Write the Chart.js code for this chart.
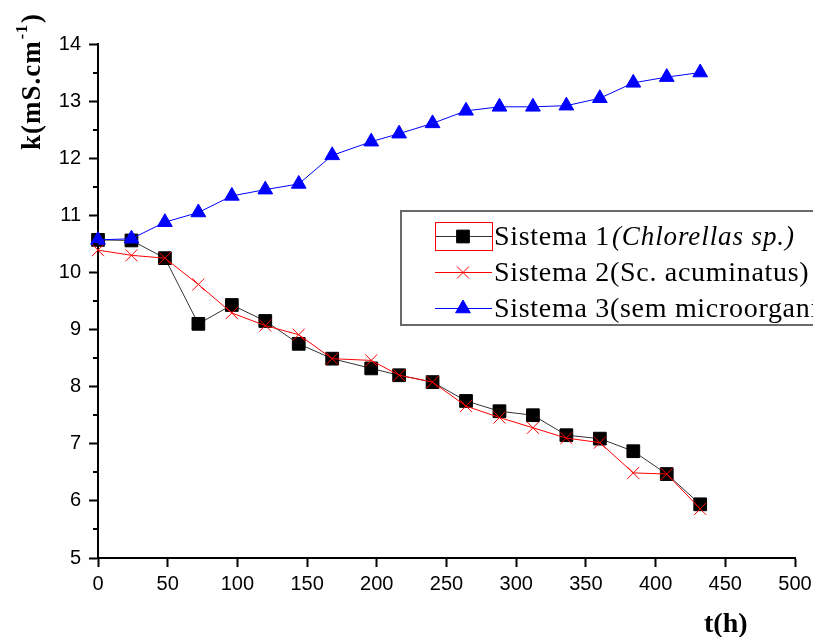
<!DOCTYPE html>
<html lang="pt">
<head>
<meta charset="utf-8">
<title>Condutividade x tempo</title>
<script src="https://cdn.jsdelivr.net/npm/chart.js@4.4.1/dist/chart.umd.min.js"></script>
<style>
    body { margin: 0; background: #fff; }
    #wrap { width: 813px; height: 637px; }
</style>
</head>
<body>
<div id="wrap"><canvas id="kChart" width="813" height="637"></canvas></div>
<script>
// Tempo de coleta (h)
var horas = [0, 24, 48, 72, 96, 120, 144, 168, 196, 216, 240, 264, 288, 312, 336, 360, 384, 408, 432];

// Condutividade k (mS.cm-1) de cada sistema
var sistema1 = [10.57, 10.56, 10.25, 9.10, 9.43, 9.15, 8.75, 8.49, 8.32, 8.20, 8.08, 7.75, 7.57, 7.50, 7.15, 7.09, 6.87, 6.47, 5.94];
var sistema2 = [10.39, 10.30, 10.25, 9.79, 9.29, 9.07, 8.91, 8.49, 8.46, 8.20, 8.08, 7.66, 7.46, 7.28, 7.10, 7.02, 6.49, 6.47, 5.86];
var sistema3 = [10.57, 10.59, 10.88, 11.05, 11.34, 11.45, 11.55, 12.05, 12.29, 12.43, 12.61, 12.83, 12.90, 12.90, 12.92, 13.05, 13.32, 13.42, 13.50];

// Eixos
var xTicks = [0, 50, 100, 150, 200, 250, 300, 350, 400, 450, 500];
var yTicks = [5, 6, 7, 8, 9, 10, 11, 12, 13, 14];
var yMinorTicks = [5.5, 6.5, 7.5, 8.5, 9.5, 10.5, 11.5, 12.5, 13.5];

// Legenda: texto normal + parte em itálico
var legendaNomes = ["Sistema 1", "Sistema 2(Sc. acuminatus)", "Sistema 3(sem microorganismos)"];
var legendaItalico = ["(Chlorellas sp.)", "", ""];

function pontos(valores) {
    return horas.map(function (h, i) {
        return { x: h, y: valores[i] };
    });
}

var serif = "'Liberation Serif', 'Times New Roman', serif";
var sans = "'Liberation Sans', Arial, sans-serif";

var series = [
    { label: legendaNomes[0], data: pontos(sistema1), borderColor: "#333333", backgroundColor: "#000", pointBorderColor: "#000",
      pointStyle: "rect", pointRadius: 9, pointBorderWidth: 1, order: 2 },
    { label: legendaNomes[1], data: pontos(sistema2), borderColor: "#ff0000", backgroundColor: "#ff0000", pointBorderColor: "#ff0000",
      pointStyle: "crossRot", pointRadius: 8.5, pointBorderWidth: 1, order: 1 },
    { label: legendaNomes[2], data: pontos(sistema3), borderColor: "#0000ff", backgroundColor: "#0000ff", pointBorderColor: "#0000ff",
      pointStyle: "triangle", pointRadius: 8.5, pointBorderWidth: 1, order: 0 }
];
series.forEach(function (s) {
    s.borderWidth = 1;
    s.tension = 0;
    s.clip = false;
    s.pointHoverRadius = s.pointRadius;
});

// Traços menores do eixo y
var minorTicksPlugin = {
    id: "minorTicks",
    afterDraw: function (chart) {
        var ctx = chart.ctx;
        var y = chart.scales.y;
        ctx.save();
        ctx.strokeStyle = "#000";
        ctx.lineWidth = 2;
        yMinorTicks.forEach(function (v) {
            var py = Math.round(y.getPixelForValue(v));
            ctx.beginPath();
            ctx.moveTo(y.right - 5, py);
            ctx.lineTo(y.right, py);
            ctx.stroke();
        });
        ctx.restore();
    }
};

// Títulos dos eixos (com expoente)
var axisTitlesPlugin = {
    id: "axisTitles",
    afterDraw: function (chart) {
        var ctx = chart.ctx;
        ctx.save();
        ctx.fillStyle = "#000";
        ctx.textBaseline = "alphabetic";
        ctx.textAlign = "left";

        ctx.translate(40, 150);
        ctx.rotate(-Math.PI / 2);
        ctx.font = "bold 27px " + serif;
        ctx.letterSpacing = "1px";
        var base = "k(mS.cm";
        ctx.fillText(base, 0, 0);
        var w = ctx.measureText(base).width;
        ctx.font = "bold 16px " + serif;
        ctx.fillText("-1", w + 1, -13);
        var w2 = ctx.measureText("-1").width;
        ctx.font = "bold 27px " + serif;
        ctx.fillText(")", w + w2 + 2, 0);
        ctx.restore();

        ctx.save();
        ctx.fillStyle = "#000";
        ctx.font = "bold 28px " + serif;
        ctx.textAlign = "left";
        ctx.fillText("t(h)", 704, 632);
        ctx.restore();
    }
};

// Legenda desenhada à mão (nome com parte em itálico)
var legendaPlugin = {
    id: "legendaBox",
    afterDraw: function (chart) {
        var ctx = chart.ctx;
        ctx.save();
        ctx.strokeStyle = "#6a6a6a";
        ctx.lineWidth = 2;
        ctx.strokeRect(401, 211, 440, 114);

        for (var i = 0; i < series.length; i++) {
            var s = series[i];
            var ry = 236 + i * 36;
            ctx.strokeStyle = s.borderColor;
            ctx.lineWidth = 1;
            ctx.beginPath();
            ctx.moveTo(435, ry + 0.5);
            ctx.lineTo(492, ry + 0.5);
            ctx.stroke();
            ctx.fillStyle = s.backgroundColor;
            ctx.strokeStyle = s.pointBorderColor;
            Chart.helpers.drawPoint(ctx, {
                pointStyle: s.pointStyle,
                radius: s.pointRadius,
                borderWidth: 1,
                rotation: 0
            }, 463, ry + 0.5);

            ctx.fillStyle = "#000";
            ctx.font = "28px " + serif;
            ctx.letterSpacing = "0.7px";
            ctx.textAlign = "left";
            ctx.fillText(legendaNomes[i], 494, ry + 9);
            if (legendaItalico[i]) {
                var w = ctx.measureText(legendaNomes[i]).width;
                ctx.font = "italic 27px " + serif;
                ctx.letterSpacing = "0.9px";
                ctx.fillText(legendaItalico[i], 494 + w + 2, ry + 9);
            }
        }
        // contorno vermelho em volta da primeira amostra
        ctx.strokeStyle = "#ff0000";
        ctx.lineWidth = 1;
        ctx.strokeRect(435.5, 222.5, 57, 28);
        ctx.restore();
    }
};

var ctx = document.getElementById("kChart").getContext("2d");
var kChart = new Chart(ctx, {
    type: "line",
    data: { datasets: series },
    options: {
        responsive: false,
        animation: false,
        devicePixelRatio: 1,
        layout: { padding: { top: 44, right: 0, left: 0, bottom: 0 } },
        plugins: {
            legend: { display: false },
            tooltip: { enabled: false }
        },
        scales: {
            x: {
                type: "linear",
                min: 0,
                max: 500,
                afterBuildTicks: function (scale) {
                    scale.ticks = xTicks.map(function (v) { return { value: v }; });
                },
                afterFit: function (scale) {
                    scale.height = 79;
                    scale.paddingRight = 18;
                },
                ticks: { color: "#000", font: { family: sans, size: 20 }, padding: 5, maxRotation: 0 },
                grid: { drawOnChartArea: false, tickLength: 9, tickColor: "#000", tickWidth: 2 },
                border: { color: "#000", width: 2 }
            },
            y: {
                type: "linear",
                min: 5,
                max: 14,
                afterBuildTicks: function (scale) {
                    scale.ticks = yTicks.map(function (v) { return { value: v }; });
                },
                afterFit: function (scale) {
                    scale.width = 98;
                    scale.paddingTop = 0;
                },
                ticks: { color: "#000", font: { family: sans, size: 20 }, padding: 8 },
                grid: { drawOnChartArea: false, tickLength: 9, tickColor: "#000", tickWidth: 2 },
                border: { color: "#000", width: 2 }
            }
        }
    },
    plugins: [minorTicksPlugin, axisTitlesPlugin, legendaPlugin]
});
</script>
</body>
</html>
